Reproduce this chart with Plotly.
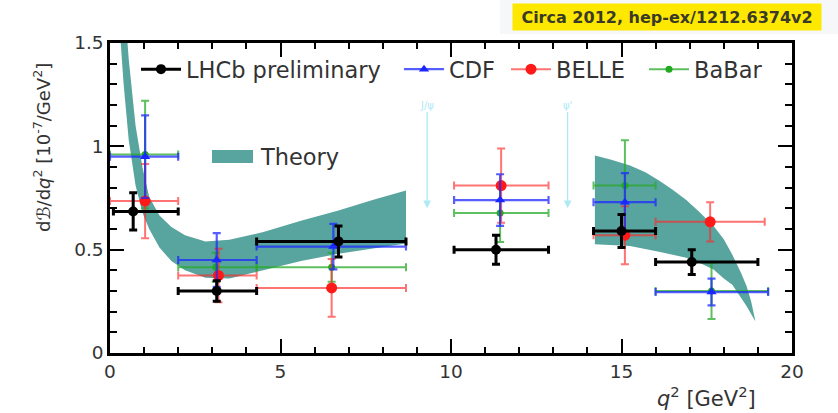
import plotly.graph_objects as go

# ---------------- data ----------------
# LHCb preliminary
lhcb_q   = [0.68, 3.13, 6.70, 11.32, 15.00, 17.06]
lhcb_lo  = [0.10, 2.00, 4.30, 10.09, 14.18, 16.00]
lhcb_hi  = [2.00, 4.30, 8.68, 12.86, 16.00, 19.00]
lhcb_val = [0.685, 0.300, 0.540, 0.500, 0.590, 0.440]
lhcb_err = [0.090, 0.050, 0.075, 0.070, 0.080, 0.060]

# CDF
cdf_q   = [1.03, 3.13, 6.55, 11.44, 15.10, 17.64]
cdf_lo  = [0.00, 2.00, 4.30, 10.09, 14.18, 16.00]
cdf_hi  = [2.00, 4.30, 8.68, 12.86, 16.00, 19.30]
cdf_val = [0.950, 0.450, 0.515, 0.740, 0.730, 0.295]
cdf_err = [0.200, 0.130, 0.110, 0.125, 0.140, 0.065]

# BELLE
belle_q   = [1.03, 3.18, 6.50, 11.47, 15.10, 17.60]
belle_lo  = [0.00, 2.00, 4.30, 10.09, 14.18, 16.00]
belle_hi  = [2.00, 4.30, 8.68, 12.86, 16.00, 19.20]
belle_val = [0.735, 0.375, 0.315, 0.810, 0.570, 0.635]
belle_err = [0.180, 0.130, 0.140, 0.180, 0.140, 0.095]

# BaBar
babar_q   = [1.03, 3.10, 6.50, 11.44, 15.10, 17.64]
babar_lo  = [0.00, 2.00, 4.30, 10.09, 14.18, 16.00]
babar_hi  = [2.00, 4.30, 8.68, 12.86, 16.00, 19.30]
babar_val = [0.960, 0.415, 0.415, 0.677, 0.810, 0.300]
babar_err = [0.260, 0.070, 0.070, 0.140, 0.220, 0.135]

# Theory band, low-q2 region (upper and lower edges)
th1_q  = [0.25, 0.40, 0.55, 0.75, 0.95, 1.15, 1.45, 1.80, 2.20, 2.80, 3.50, 4.50, 5.60, 6.70, 7.70, 8.68]
th1_lo = [1.65, 1.30, 1.03, 0.81, 0.68, 0.60, 0.51, 0.445, 0.40, 0.364, 0.36, 0.40, 0.445, 0.48, 0.505, 0.53]
th1_hi = [2.40, 1.75, 1.42, 1.10, 0.90, 0.755, 0.665, 0.61, 0.57, 0.54, 0.548, 0.585, 0.64, 0.69, 0.74, 0.786]

# Theory band, high-q2 region
th2_q_hi = [14.22, 14.70, 15.25, 15.70, 16.10, 16.50, 16.90, 17.30, 17.70, 18.00, 18.25, 18.50, 18.67, 18.80, 18.92]
th2_hi   = [0.956, 0.935, 0.907, 0.875, 0.835, 0.790, 0.740, 0.680, 0.615, 0.550, 0.475, 0.390, 0.323, 0.250, 0.160]
th2_q_lo = [14.22, 15.25, 16.10, 16.90, 17.30, 17.70, 18.00, 18.25, 18.50, 18.67, 18.92]
th2_lo   = [0.526, 0.518, 0.490, 0.461, 0.435, 0.404, 0.360, 0.330, 0.270, 0.226, 0.155]

# vetoed charmonium regions
veto_q     = [9.30, 13.42]
veto_top   = [1.20, 1.20]
veto_bot   = [0.70, 0.70]
veto_label = ["J/ψ", "ψ'"]

legend_names = ["LHCb preliminary", "CDF", "BELLE", "BaBar"]

# ---------------- figure ----------------
fig = go.Figure()

band_color = "#58a49e"
bands = [(th1_q, th1_hi, th1_q, th1_lo), (th2_q_hi, th2_hi, th2_q_lo, th2_lo)]
for qh, hi, ql, lo in bands:
    fig.add_trace(go.Scatter(
        x=qh + ql[::-1], y=hi + lo[::-1], fill="toself", fillcolor=band_color,
        line=dict(width=0, color=band_color), mode="lines",
        showlegend=False, hoverinfo="skip"))


def exp_trace(q, lo, hi, val, err, ecol, mcol, msym, msize, ethick):
    return go.Scatter(
        x=q, y=val, mode="markers", showlegend=False,
        marker=dict(color=mcol, symbol=msym, size=msize, line=dict(width=0)),
        error_x=dict(type="data", symmetric=False,
                     array=[h - c for h, c in zip(hi, q)],
                     arrayminus=[c - l for c, l in zip(q, lo)],
                     color=ecol, thickness=ethick, width=4),
        error_y=dict(type="data", array=err, color=ecol, thickness=ethick, width=4))


styles = {
    "BaBar": ("rgba(40,170,40,0.75)", "#22aa22", "circle", 7, 2),
    "BELLE": ("rgba(255,40,40,0.65)", "#ff1a1a", "circle", 11, 2),
    "CDF": ("rgba(30,40,255,0.75)", "#1a28ff", "triangle-up", 9, 2.2),
    "LHCb preliminary": ("#000000", "#000000", "circle", 10, 3),
}

fig.add_trace(exp_trace(babar_q, babar_lo, babar_hi, babar_val, babar_err, *styles["BaBar"]))
fig.add_trace(exp_trace(belle_q, belle_lo, belle_hi, belle_val, belle_err, *styles["BELLE"]))
fig.add_trace(exp_trace(cdf_q, cdf_lo, cdf_hi, cdf_val, cdf_err, *styles["CDF"]))
fig.add_trace(exp_trace(lhcb_q, lhcb_lo, lhcb_hi, lhcb_val, lhcb_err, *styles["LHCb preliminary"]))

# legend-only entries, each in its own legend box so it can sit where the reference puts it
legend_ids = ["legend", "legend2", "legend3", "legend4"]
legend_px = [136, 399, 506, 644]
for name, lid in zip(legend_names, legend_ids):
    ecol, mcol, msym, msize, ethick = styles[name]
    fig.add_trace(go.Scatter(
        x=[None], y=[None], mode="lines+markers", name=name, legend=lid,
        line=dict(color=ecol if name != "LHCb preliminary" else "#000", width=ethick),
        marker=dict(color=mcol, symbol=msym, size=msize)))

# veto arrows
for q, t, b, lab in zip(veto_q, veto_top, veto_bot, veto_label):
    fig.add_annotation(x=q, y=b, ax=q, ay=t, xref="x", yref="y", axref="x", ayref="y",
                       text=lab, showarrow=True, arrowhead=2, arrowsize=1.2,
                       arrowwidth=1.3, arrowcolor="#aeeaf6",
                       font=dict(size=10, color="#aeeaf6", family="DejaVu Sans"))

# very light header strip behind the citation box
fig.add_shape(type="rect", xref="paper", yref="paper", layer="below",
              x0=(500 - 110) / 682, x1=(838 - 110) / 682,
              y0=(353 - 34) / 310, y1=(353 - 0) / 310,
              fillcolor="#f6f7f9", line=dict(width=0))

# Theory legend entry (drawn as key)
fig.add_shape(type="rect", xref="paper", yref="paper",
              x0=(212 - 110) / 682, x1=(253 - 110) / 682,
              y0=(353 - 163) / 310, y1=(353 - 150) / 310,
              fillcolor=band_color, line=dict(width=0))
fig.add_annotation(xref="paper", yref="paper", x=(258 - 110) / 682, y=(353 - 157) / 310,
                   xanchor="left", yanchor="middle", showarrow=False, text="Theory",
                   font=dict(size=22.5, color="#333333", family="DejaVu Sans"))

# Axis titles
fig.add_annotation(xref="paper", yref="paper", x=(42 - 110) / 682, y=(353 - 148) / 310,
                   textangle=-90, showarrow=False, xanchor="center", yanchor="middle",
                   text="dℬ/d<i>q</i><sup>2</sup> [10<sup>-7</sup>/GeV<sup>2</sup>]",
                   font=dict(size=18, color="#333333", family="DejaVu Sans"))
fig.add_annotation(xref="paper", yref="paper", x=(706 - 110) / 682, y=(353 - 397) / 310,
                   showarrow=False, xanchor="center", yanchor="middle",
                   text="<i>q</i><sup>2</sup> [GeV<sup>2</sup>]",
                   font=dict(size=21, color="#333333", family="DejaVu Sans"))

# Yellow citation box
fig.add_annotation(xref="paper", yref="paper", x=(667 - 110) / 682, y=(353 - 17) / 310,
                   showarrow=False, xanchor="center", yanchor="middle",
                   text="<b>Circa 2012, hep-ex/1212.6374v2</b>", bgcolor="#ffe800",
                   width=304, height=22, borderpad=2,
                   font=dict(size=16, color="#3a3a28", family="DejaVu Sans"))

axis_common = dict(showline=True, linecolor="black", linewidth=2.5, mirror="allticks",
                   ticks="inside", ticklen=14, tickwidth=2, tickcolor="black",
                   showgrid=False, zeroline=False,
                   tickfont=dict(size=18.5, color="#333333", family="DejaVu Sans"))

fig.update_xaxes(range=[0, 20], dtick=5, tick0=0,
                 minor=dict(dtick=1, ticks="inside", ticklen=6, tickwidth=2, tickcolor="black"),
                 **axis_common)
fig.update_yaxes(range=[0, 1.5], dtick=0.5, tick0=0,
                 minor=dict(dtick=0.1, ticks="inside", ticklen=7, tickwidth=2, tickcolor="black"),
                 **axis_common)

legend_style = dict(orientation="h", xanchor="left", yanchor="top", bgcolor="rgba(0,0,0,0)",
                    font=dict(size=22.5, color="#333333", family="DejaVu Sans"),
                    itemwidth=40, tracegroupgap=0)
layout_legends = {}
for lid, px in zip(legend_ids, legend_px):
    layout_legends[lid] = dict(x=(px - 110) / 682, y=(353 - 48) / 310, **legend_style)

fig.update_layout(
    width=838, height=413,
    margin=dict(l=110, r=46, t=43, b=60),
    paper_bgcolor="white", plot_bgcolor="white",
    showlegend=True,
    **layout_legends,
)

fig.write_html("out.html")
